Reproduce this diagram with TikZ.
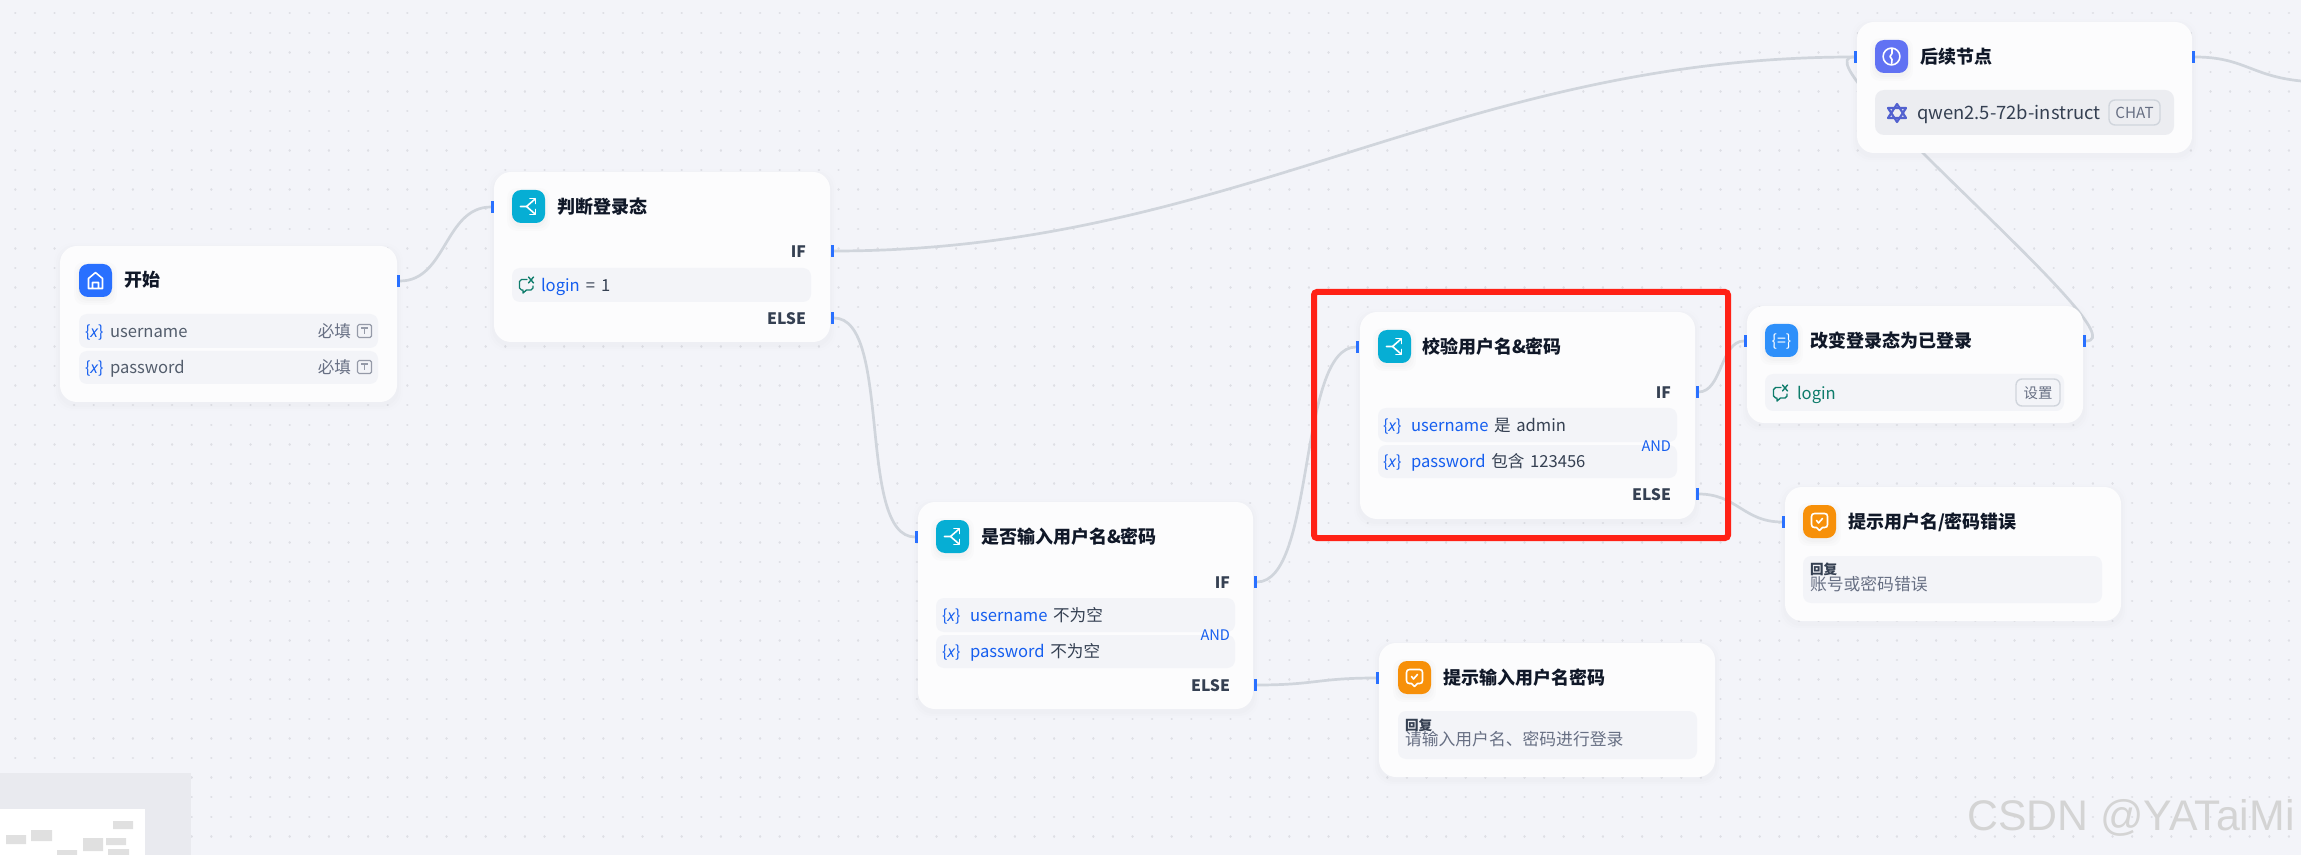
\documentclass[tikz,border=0pt]{standalone}
\usepackage{fontspec}
\setmainfont{Noto Sans CJK SC}
\newfontfamily\italfont{Noto Sans}
\newfontfamily\wmfont{Liberation Sans}
\definecolor{bgc}{HTML}{F3F4F9}
\definecolor{dotc}{HTML}{DEDFE5}
\definecolor{cardc}{HTML}{FCFCFD}
\definecolor{rowc}{HTML}{F3F4F8}
\definecolor{portc}{HTML}{2970FF}
\definecolor{edgec}{HTML}{D0D5DC}
\definecolor{varc}{HTML}{155EEF}
\definecolor{tealc}{HTML}{0E7C6B}
\definecolor{titlec}{HTML}{101828}
\definecolor{labc}{HTML}{354052}
\definecolor{greyc}{HTML}{676F83}
\definecolor{redc}{HTML}{FF2116}
\definecolor{icblue}{HTML}{2970FF}
\definecolor{iccyan}{HTML}{06AED4}
\definecolor{icassign}{HTML}{2E90FA}
\definecolor{icorange}{HTML}{F79009}
\definecolor{icindigo}{HTML}{6172F3}
\definecolor{miniout}{HTML}{E9EAEF}
\definecolor{minibar}{HTML}{E0E0E0}
\pgfdeclarelayer{bgl}
\pgfdeclarelayer{edgel}
\pgfsetlayers{bgl,edgel,main}
\newcounter{tn}
\newcommand{\wsp}{\hspace{2.8pt}}
\tikzset{
  cardbox/.style={fill=cardc,rounded corners=8.5pt},
  rowbox/.style={fill=rowc,rounded corners=4pt},
  iconbox/.style={fill=#1,rounded corners=4.5pt},
  portbox/.style={fill=portc,minimum width=1.5pt,minimum height=6pt,inner sep=0pt,outer sep=0pt},
  edgeline/.style={draw=edgec,line width=1.35pt,line cap=round},
  glyph/.style={draw=white,line width=0.8pt,line cap=round,line join=round},
  txt/.style={inner sep=0pt,outer sep=0pt,text height=8.3pt,text depth=1.8pt},
  titletxt/.style={txt,anchor=west,text=titlec,font=\fontsize{9}{10}\selectfont\bfseries},
  cond/.style={txt,anchor=east,text=labc,font=\fontsize{7.9}{10}\selectfont\bfseries},
  andtxt/.style={txt,anchor=east,text=varc,font=\fontsize{7.3}{9}\selectfont},
  rowtxt/.style={txt,anchor=west,text=labc,font=\fontsize{8.3}{10}\selectfont},
  reptitle/.style={txt,anchor=west,text=labc,font=\fontsize{6.8}{8}\selectfont\bfseries},
  reptxt/.style={txt,anchor=west,text=greyc,font=\fontsize{8.4}{10}\selectfont},
}
% rectangle node given by its corners
\newcommand{\rbox}[6]{\node[#6,minimum width={(#4-#2)*0.5pt},minimum height={(#5-#3)*0.5pt},inner sep=0pt,outer sep=0pt] (#1) at ({(#2+#4)/2},{(#3+#5)/2}) {};}
% soft shadow + card
\newcommand{\card}[5]{%
  \foreach \e/\o in {6/0.005,4/0.006,2/0.007}{\fill[black,opacity=\o,rounded corners=9pt] ({#2-\e},{#3-\e+3}) rectangle ({#4+\e},{#5+\e+3});}
  \rbox{#1}{#2}{#3}{#4}{#5}{cardbox}}
\newcommand{\icon}[4]{%
  \foreach \e/\o in {5/0.01,3/0.012,1/0.015}{\fill[black,opacity=\o,rounded corners=5pt] ({#2-\e},{#3-\e+3}) rectangle ({#2+33+\e},{#3+33+\e+3});}
  \rbox{#1}{#2}{#3}{#2+33}{#3+33}{iconbox=#4}}
\newcommand{\tl}[4]{\stepcounter{tn}\node[#3] (t\thetn) at (#1,#2) {#4};}
\newcommand{\varx}[2]{\stepcounter{tn}\node[txt,anchor=west,text=varc,font=\fontsize{8}{9}\selectfont] (t\thetn) at (#1,#2) {\{\italfont\itshape x\normalfont\}};}
\newcommand{\convicon}[2]{\begin{scope}[shift={(#1,#2)}]
  \draw[tealc,line width=0.7pt,line cap=round,line join=round] (0,-5.5) -- (-5.5,-5.5) -- (-7.5,-3.5) -- (-7.5,3) -- (-5.5,5) -- (-4,5) -- (-4,8) -- (-0.5,5) -- (4,5) -- (6,3) -- (6,1);
  \draw[tealc,line width=0.7pt,line cap=round] (1.5,-8) -- (6.5,-2) (6.5,-8) -- (1.5,-2);
\end{scope}}
\newcommand{\brglyph}[1]{\begin{scope}[shift={(#1.center)}]
  \draw[glyph] (-8,0) -- (-2,0) -- (6,-7) (-2,0) -- (6,7);
  \draw[glyph] (1.5,-8) -- (7,-8) -- (7,-3) (1.5,8) -- (7,8) -- (7,3);
\end{scope}}
\newcommand{\replyglyph}[1]{\begin{scope}[shift={(#1.center)}]
  \draw[glyph] (-5,-8) -- (5,-8) .. controls (7,-8) and (8,-7) .. (8,-5) -- (8,3) .. controls (8,5) and (7,6) .. (5,6) -- (3,6) -- (0,9) -- (-3,6) -- (-5,6) .. controls (-7,6) and (-8,5) .. (-8,3) -- (-8,-5) .. controls (-8,-7) and (-7,-8) .. (-5,-8) -- cycle;
  \draw[glyph] (-3,-1) -- (-1,1.5) -- (3,-3);
\end{scope}}
\newcommand{\ticon}[2]{\begin{scope}[shift={(#1,#2)}]
  \draw[greyc!70,line width=0.6pt,rounded corners=0.8pt] (-7,-6.5) rectangle (7,6.5);
  \draw[greyc!70,line width=0.6pt] (-3.5,-3) -- (3.5,-3) (0,-3) -- (0,3.5);
\end{scope}}
\begin{document}
\begin{tikzpicture}[x=0.5pt,y=-0.5pt]
\useasboundingbox (0,0) rectangle (2301,855);
\begin{pgfonlayer}{bgl}
  \fill[bgc] (0,0) rectangle (2301,855);
  \foreach \j in {-4,...,38}{
    \draw[dotc,line width=1.25pt,line cap=round,dash pattern=on 0.01pt off 9.79pt] (15.3,{758-19.6*\j}) -- (2301,{758-19.6*\j});
  }
\end{pgfonlayer}

% minimap
\fill[miniout] (0,773) rectangle (191,855);
\fill[white] (0,809) rectangle (145,855);
\fill[minibar] (6,835) rectangle (26,844) (31,830) rectangle (52,841) (113,821) rectangle (133,829)
  (83,838) rectangle (103,851) (106,838) rectangle (126,845) (57,850) rectangle (77,855) (108,849) rectangle (129,855);

% ---------- start
\card{start}{60}{246}{397}{402}
\icon{startic}{79}{264}{icblue}
\begin{scope}[shift={(startic.center)}]
  \draw[glyph] (-7,8) -- (-7,-2) -- (0,-8) -- (7,-2) -- (7,8) -- cycle (-3,8) -- (-3,2) -- (3,2) -- (3,8);
\end{scope}
\tl{124}{280}{titletxt}{开始}
\rbox{startr1}{79}{314}{378}{348}{rowbox}
\rbox{startr2}{79}{351}{378}{384}{rowbox}
\varx{85}{331}\tl{110}{331}{rowtxt,text=labc!85}{username}
\tl{351}{331}{rowtxt,anchor=east,text=greyc}{必填}\ticon{364.5}{331}
\varx{85}{367}\tl{110}{367}{rowtxt,text=labc!85}{password}
\tl{351}{367}{rowtxt,anchor=east,text=greyc}{必填}\ticon{364.5}{367}
\node[portbox] (startout) at (398.5,281) {};

% ---------- judge login
\card{judge}{494}{172}{830}{342}
\icon{judgeic}{512}{190}{iccyan}\brglyph{judgeic}
\tl{557}{207}{titletxt}{判断登录态}
\tl{806}{251}{cond}{IF}
\rbox{judger}{512}{268}{811}{302}{rowbox}
\convicon{527}{285}
\tl{541}{285}{rowtxt}{\textcolor{varc}{login}\hspace{3pt}=\hspace{3pt}1}
\tl{806}{318}{cond}{ELSE}
\node[portbox] (judgein) at (492.5,207) {};
\node[portbox] (judgeif) at (832.5,251) {};
\node[portbox] (judgeelse) at (832.5,318) {};

% ---------- input check
\card{inp}{918}{502}{1253}{709}
\icon{inpic}{936}{520}{iccyan}\brglyph{inpic}
\tl{981}{537}{titletxt}{是否输入用户名\&密码}
\tl{1230}{582}{cond}{IF}
\rbox{inpr1}{936}{598}{1235}{632}{rowbox}
\rbox{inpr2}{936}{635}{1235}{668}{rowbox}
\varx{942}{615}\tl{970}{615}{rowtxt}{\textcolor{varc}{username}\wsp 不为空}
\varx{942}{651}\tl{970}{651}{rowtxt}{\textcolor{varc}{password}\wsp 不为空}
\tl{1230}{634}{andtxt}{AND}
\tl{1230}{685}{cond}{ELSE}
\node[portbox] (inpin) at (916.5,537) {};
\node[portbox] (inpif) at (1255.5,582) {};
\node[portbox] (inpelse) at (1255.5,685) {};

% ---------- reply 1
\card{repa}{1379}{643}{1715}{777}
\icon{repaic}{1398}{661}{icorange}\replyglyph{repaic}
\tl{1443}{678}{titletxt}{提示输入用户名密码}
\rbox{repar}{1398}{711}{1697}{759}{rowbox}
\tl{1405}{724}{reptitle}{回复}
\tl{1405}{739}{reptxt}{请输入用户名、密码进行登录}
\node[portbox] (repain) at (1377.5,678) {};

% ---------- validate
\card{val}{1360}{312}{1695}{519}
\icon{valic}{1378}{330}{iccyan}\brglyph{valic}
\tl{1422}{347}{titletxt}{校验用户名\&密码}
\tl{1671}{392}{cond}{IF}
\rbox{valr1}{1378}{408}{1677}{442}{rowbox}
\rbox{valr2}{1378}{445}{1677}{478}{rowbox}
\varx{1383}{425}\tl{1411}{425}{rowtxt}{\textcolor{varc}{username}\wsp 是\wsp admin}
\varx{1383}{461}\tl{1411}{461}{rowtxt}{\textcolor{varc}{password}\wsp 包含\wsp 123456}
\tl{1671}{445}{andtxt}{AND}
\tl{1671}{494}{cond}{ELSE}
\node[portbox] (valin) at (1357.5,347) {};
\node[portbox] (valif) at (1697,392) {};
\node[portbox] (valelse) at (1697,494) {};

% ---------- assign login
\card{asg}{1747}{306}{2083}{423}
\icon{asgic}{1765}{324}{icassign}
\tl{1781.5}{340.5}{txt,anchor=center,text=white,font=\fontsize{8}{9}\selectfont}{\{=\}}
\tl{1810}{341}{titletxt}{改变登录态为已登录}
\rbox{asgr}{1765}{374}{2064}{411}{rowbox}
\convicon{1781}{393}
\tl{1797}{393}{rowtxt,text=tealc}{login}
\rbox{asgbtn}{2016}{379}{2060}{406}{draw=edgec,line width=0.7pt,fill=rowc,rounded corners=3pt}
\tl{2038}{392.5}{txt,anchor=center,text=greyc,font=\fontsize{7.2}{9}\selectfont}{设置}
\node[portbox] (asgin) at (1745.5,341) {};
\node[portbox] (asgout) at (2084.5,341) {};

% ---------- reply 2
\card{repb}{1785}{487}{2121}{621}
\icon{repbic}{1803}{505}{icorange}\replyglyph{repbic}
\tl{1848}{522}{titletxt}{提示用户名/密码错误}
\rbox{repbr}{1803}{556}{2102}{603}{rowbox}
\tl{1810}{568}{reptitle}{回复}
\tl{1810}{584}{reptxt}{账号或密码错误}
\node[portbox] (repbin) at (1783.5,522) {};

% ---------- LLM
\card{llm}{1857}{22}{2192}{153}
\icon{llmic}{1875}{40}{icindigo}
\begin{scope}[shift={(llmic.center)}]
  \draw[glyph] (0,0) circle[radius=4.2pt];
  \draw[glyph] (0.5,-8) -- (0.5,-3) -- (-1.5,0) -- (0.5,3) -- (0,8);
\end{scope}
\tl{1920}{57}{titletxt}{后续节点}
\rbox{llmr}{1875}{90}{2174}{135}{fill=rowc!97!black,rounded corners=4.5pt}
\begin{scope}[shift={(1897,113)}]
  \draw[icindigo!85!black,line width=1.1pt,line join=round] (0,9) -- (-9,-5) -- (9,-5) -- cycle;
  \draw[icindigo!85!black,line width=1.1pt,line join=round] (0,-9) -- (9,5) -- (-9,5) -- cycle;
\end{scope}
\tl{1917}{113}{txt,anchor=west,text=labc,font=\fontsize{9.2}{11}\selectfont}{qwen2.5-72b-instruct}
\rbox{llmbadge}{2109}{100}{2160}{125}{draw=edgec,line width=0.7pt,rounded corners=3pt}
\tl{2134.5}{112.5}{txt,anchor=center,text=greyc,font=\fontsize{7.6}{9}\selectfont}{CHAT}
\node[portbox] (llmin) at (1855,57) {};
\node[portbox] (llmout) at (2193.5,57) {};
\coordinate (offr) at (2301,81);

% ---------- connectors (beneath the cards)
\begin{pgfonlayer}{edgel}
  \draw[edgeline] (startout) .. controls +(48,0) and +(-48,0) .. (judgein);
  \draw[edgeline] (judgeif) .. controls +(400,0) and +(-400,0) .. (llmin);
  \draw[edgeline] (judgeelse) .. controls +(60,0) and +(-60,0) .. (inpin);
  \draw[edgeline] (inpif) .. controls +(60,0) and +(-60,0) .. (valin);
  \draw[edgeline] (inpelse) .. controls +(60,0) and +(-60,0) .. (repain);
  \draw[edgeline] (valif) .. controls +(25,0) and +(-25,0) .. (asgin);
  \draw[edgeline] (valelse) .. controls +(40,0) and +(-40,0) .. (repbin);
  \draw[edgeline] (asgout) .. controls +(60,0) and +(-60,0) .. (llmin);
  \draw[edgeline] (llmout) .. controls +(50,0) and +(-50,-5) .. (offr);
\end{pgfonlayer}

% highlight frame
\draw[redc,line width=3pt,rounded corners=1.5pt] (1314,292) rectangle (1728,538);

% watermark
\tl{2295}{818}{inner sep=0pt,anchor=east,text=black!17,font=\wmfont\fontsize{21.4}{26}\selectfont}{CSDN @YATaiMi}
\end{tikzpicture}
\end{document}
